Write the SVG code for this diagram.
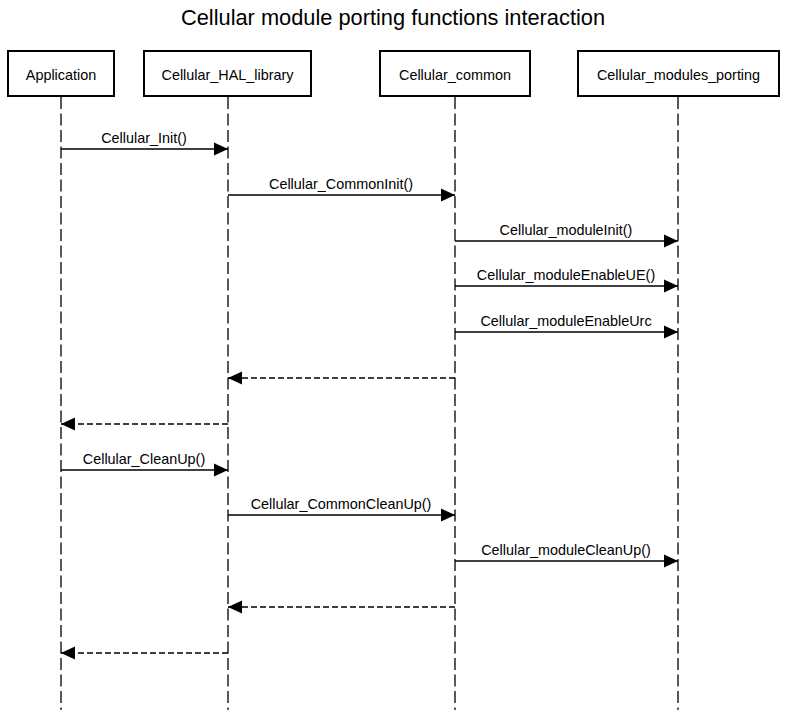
<svg xmlns="http://www.w3.org/2000/svg" width="786" height="710" viewBox="0 0 786 710">
<style>
text{font-family:"Liberation Sans",Arial,sans-serif;fill:#000}
.title{font-size:21.8px;text-anchor:middle}
.box{fill:#fff;stroke:#000;stroke-width:2}
.bl{font-size:14.4px;text-anchor:middle}
.life{stroke:#000;stroke-width:1.3;stroke-dasharray:12,4.5;fill:none}
.msg{stroke:#000;stroke-width:1.3;fill:none;marker-end:url(#ah)}
.ret{stroke:#000;stroke-width:1.3;fill:none;stroke-dasharray:6,3;marker-end:url(#ah)}
.ml{font-size:14.4px;text-anchor:middle}
</style>
<defs>
<marker id="ah" markerUnits="userSpaceOnUse" markerWidth="14" markerHeight="14" refX="14" refY="7" orient="auto">
<path d="M0,0.5 L14,7 L0,13.5 Z" fill="#000"/>
</marker>
</defs>
<rect width="786" height="710" fill="#fff"/>
<text class="title" x="393" y="25">Cellular module porting functions interaction</text>
<g id="lifelines">
<line class="life" x1="61" y1="97" x2="61" y2="710"/>
<line class="life" x1="228" y1="97" x2="228" y2="710"/>
<line class="life" x1="455" y1="97" x2="455" y2="710"/>
<line class="life" x1="678" y1="97" x2="678" y2="710"/>
</g>
<g id="node-application"><rect class="box" x="8" y="51" width="106" height="45"/><text class="bl" x="61" y="80">Application</text></g>
<g id="node-hal"><rect class="box" x="144" y="51" width="167" height="45"/><text class="bl" x="227.5" y="80">Cellular_HAL_library</text></g>
<g id="node-common"><rect class="box" x="380" y="51" width="150" height="45"/><text class="bl" x="455" y="80">Cellular_common</text></g>
<g id="node-porting"><rect class="box" x="578" y="51" width="201" height="45"/><text class="bl" x="678.5" y="80">Cellular_modules_porting</text></g>
<g id="connectors">
<line class="msg" x1="61" y1="149" x2="228" y2="149"/>
<text class="ml" x="144" y="143">Cellular_Init()</text>
<line class="msg" x1="228" y1="195" x2="455" y2="195"/>
<text class="ml" x="341" y="189">Cellular_CommonInit()</text>
<line class="msg" x1="455" y1="241" x2="678" y2="241"/>
<text class="ml" x="566" y="235">Cellular_moduleInit()</text>
<line class="msg" x1="455" y1="286" x2="678" y2="286"/>
<text class="ml" x="566" y="280">Cellular_moduleEnableUE()</text>
<line class="msg" x1="455" y1="332" x2="678" y2="332"/>
<text class="ml" x="566" y="326">Cellular_moduleEnableUrc</text>
<line class="ret" x1="455" y1="378" x2="228" y2="378"/>
<line class="ret" x1="228" y1="424" x2="61" y2="424"/>
<line class="msg" x1="61" y1="470" x2="228" y2="470"/>
<text class="ml" x="144" y="464">Cellular_CleanUp()</text>
<line class="msg" x1="228" y1="515" x2="455" y2="515"/>
<text class="ml" x="341" y="509">Cellular_CommonCleanUp()</text>
<line class="msg" x1="455" y1="561" x2="678" y2="561"/>
<text class="ml" x="566" y="555">Cellular_moduleCleanUp()</text>
<line class="ret" x1="455" y1="607" x2="228" y2="607"/>
<line class="ret" x1="228" y1="653" x2="61" y2="653"/>
</g>
</svg>
